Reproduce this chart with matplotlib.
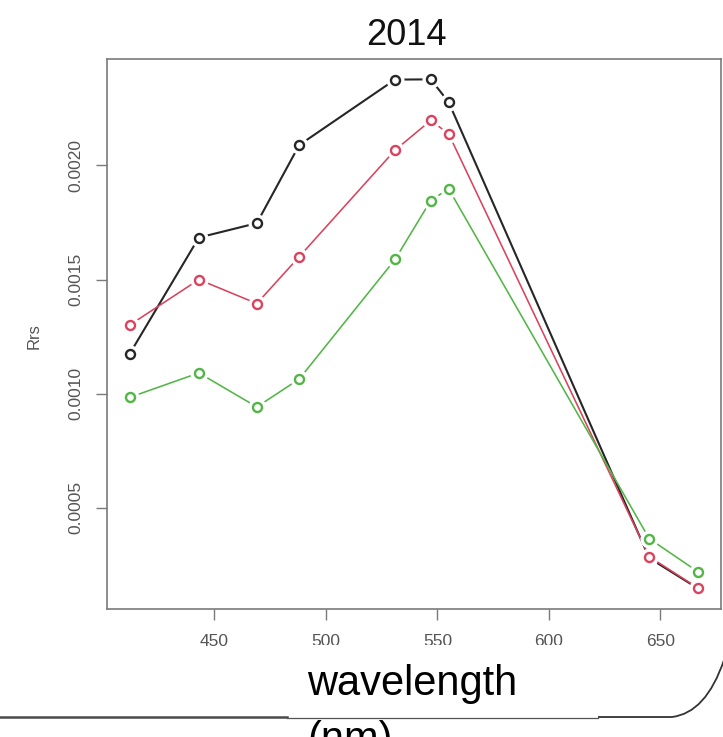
import matplotlib
matplotlib.use("Agg")
import matplotlib.pyplot as plt
from matplotlib.lines import Line2D
from matplotlib.patches import Rectangle, PathPatch
from matplotlib.path import Path

plt.rcParams["font.family"] = ["Liberation Sans", "DejaVu Sans"]

# MODIS bands (nm) and remote-sensing reflectance for three samples
wavelength = [412, 443, 469, 488, 531, 547, 555, 645, 667]
rrs_black = [0.001175, 0.001684, 0.001747, 0.002089, 0.002376, 0.002377, 0.002278, 0.000280, 0.000146]
rrs_red = [0.001301, 0.001500, 0.001395, 0.001600, 0.002067, 0.002197, 0.002139, 0.000286, 0.000148]
rrs_green = [0.000984, 0.001091, 0.000942, 0.001064, 0.001588, 0.001846, 0.001898, 0.000365, 0.000219]

series = [
    (rrs_black, "#262626", 1.5),
    (rrs_red, "#D9435E", 1.15),
    (rrs_green, "#52B646", 1.15),
]
x_ticks = [450, 500, 550, 600, 650]
y_ticks = [0.0005, 0.0010, 0.0015, 0.0020]
y_tick_labels = ["0.0005", "0.0010", "0.0015", "0.0020"]

W, H = 723, 737
fig = plt.figure(figsize=(W / 100, H / 100), dpi=100)


def fx(px):
    return px / W


def fy(py):
    return 1 - py / H


ax = fig.add_axes([fx(107), fy(609), fx(721) - fx(107), fy(59) - fy(609)])

z = 2
for values, color, lw in series:
    ax.plot(wavelength, values, color=color, lw=lw, zorder=z, solid_capstyle="butt")
    # white halo so the connecting lines stop short of each point
    ax.plot(wavelength, values, ls="none", marker="o", ms=12, mfc="white",
            mec="white", zorder=z + 1)
    ax.plot(wavelength, values, ls="none", marker="o", ms=6.5, mfc="none",
            mec=color, mew=1.7, zorder=z + 2)
    z += 3

# 4% padding on each side of the data range
all_y = rrs_black + rrs_red + rrs_green
xr = max(wavelength) - min(wavelength)
yr = max(all_y) - min(all_y)
ax.set_xlim(min(wavelength) - 0.04 * xr, max(wavelength) + 0.04 * xr)
ax.set_ylim(min(all_y) - 0.04 * yr, max(all_y) + 0.04 * yr)

ax.set_xticks(x_ticks)
ax.set_xticklabels([str(t) for t in x_ticks])
ax.set_yticks(y_ticks)
ax.set_yticklabels(y_tick_labels, rotation=90, va="center")

for s in ax.spines.values():
    s.set_color("#7a7a7a")
    s.set_linewidth(1.2)
ax.tick_params(axis="both", length=8, width=1.0, color="#7a7a7a",
               labelsize=12.5, labelcolor="#555555")
ax.tick_params(axis="x", pad=10)
ax.tick_params(axis="y", pad=9)

fig.text(fx(406), fy(45), "2014", ha="center", va="baseline", fontsize=26,
         color="#111111")
fig.text(fx(34), fy(336), "Rrs", ha="center", va="center", rotation=90,
         fontsize=12, color="#555555")

# white caption box at the bottom with its outline pieces
fig.add_artist(Rectangle((fx(287), fy(717)), fx(598) - fx(287), fy(645) - fy(717),
                         transform=fig.transFigure, facecolor="white",
                         edgecolor="none", zorder=5))
fig.add_artist(Line2D([fx(0), fx(287)], [fy(717), fy(717)], transform=fig.transFigure,
                      color="#4a4a4a", lw=1.8, zorder=6))
fig.add_artist(Line2D([fx(287), fx(598)], [fy(717.5), fy(717.5)], transform=fig.transFigure,
                      color="#555555", lw=0.9, zorder=6))
curve = Path([(fx(598), fy(717)), (fx(672), fy(717)), (fx(706), fy(713)), (fx(724), fy(660))],
             [Path.MOVETO, Path.LINETO, Path.CURVE3, Path.CURVE3])
fig.add_artist(PathPatch(curve, transform=fig.transFigure, facecolor="none",
                         edgecolor="#333333", lw=1.3, zorder=6))

fig.text(fx(307), fy(695), "wavelength", ha="left", va="baseline", fontsize=30,
         color="black", zorder=7)
fig.text(fx(307), fy(751), "(nm)", ha="left", va="baseline", fontsize=30,
         color="black", zorder=7)

fig.savefig("out.png", dpi=100)
